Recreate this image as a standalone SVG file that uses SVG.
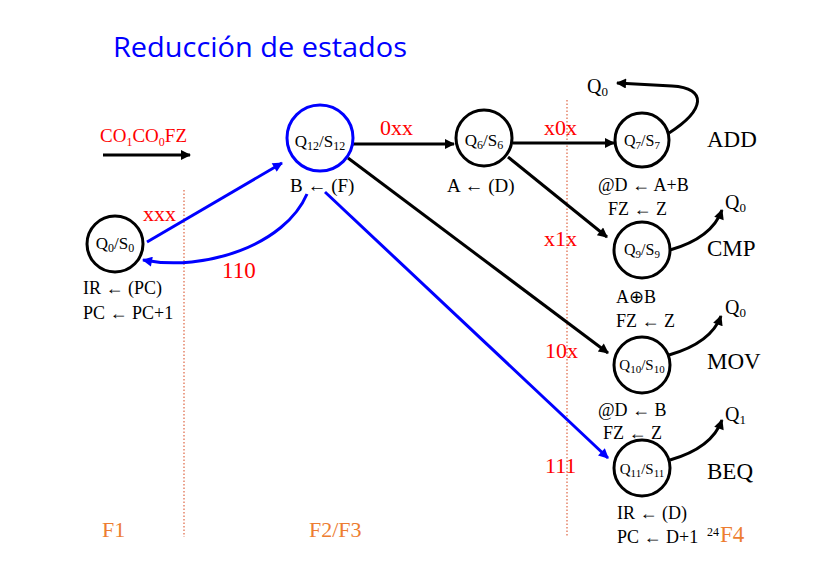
<svg xmlns="http://www.w3.org/2000/svg" width="828" height="580" viewBox="0 0 828 580">
<defs>
<style>
.t{font-family:"Liberation Serif","Times New Roman",serif;fill:#000;}
.r{font-family:"Liberation Serif","Times New Roman",serif;fill:#ff0000;}
.o{font-family:"Liberation Serif","Times New Roman",serif;fill:#ed7d31;}
.n{fill:#fff;stroke:#000;stroke-width:3;}
.nb{fill:#fff;stroke:#0000ff;stroke-width:3;}
.k{fill:none;stroke:#000;stroke-width:3;}
.b{fill:none;stroke:#0000ff;stroke-width:3;}
.dot{stroke:#e07050;stroke-width:1.3;stroke-dasharray:1.5,2;}
</style>
<marker id="ak" viewBox="0 0 10 10" refX="9" refY="5" markerWidth="12" markerHeight="10" markerUnits="userSpaceOnUse" orient="auto"><path d="M0,0 L10,5 L0,10 z" fill="#000"/></marker>
<marker id="ab" viewBox="0 0 10 10" refX="9" refY="5" markerWidth="12" markerHeight="10" markerUnits="userSpaceOnUse" orient="auto"><path d="M0,0 L10,5 L0,10 z" fill="#0000ff"/></marker>
</defs>
<rect width="828" height="580" fill="#fff"/>
<text x="113" y="57" font-family="Open Sans, Liberation Sans, sans-serif" font-size="27" fill="#0000ff" textLength="294" lengthAdjust="spacingAndGlyphs">Reducción de estados</text>

<line class="dot" x1="184" y1="190" x2="184" y2="537"/>
<line class="dot" x1="567" y1="100" x2="567" y2="537"/>

<g id="connectors">
<line class="k" x1="103" y1="155" x2="190" y2="155" marker-end="url(#ak)"/>
<line class="b" x1="147" y1="242" x2="282" y2="163" marker-end="url(#ab)"/>
<path class="b" d="M307,194 C285,245 205,272 143,260" marker-end="url(#ab)"/>
<line class="b" x1="325" y1="192" x2="608" y2="458" marker-end="url(#ab)"/>
<line class="k" x1="353" y1="144" x2="454" y2="144" marker-end="url(#ak)"/>
<line class="k" x1="348" y1="158" x2="608" y2="353" marker-end="url(#ak)"/>
<line class="k" x1="513" y1="143" x2="614" y2="143" marker-end="url(#ak)"/>
<line class="k" x1="508" y1="157" x2="607" y2="237" marker-end="url(#ak)"/>
<path class="k" d="M669,133 C705,110 708,88 672,86 L617,83" marker-end="url(#ak)"/>
<path class="k" d="M670,250 Q712,238 722,210" marker-end="url(#ak)"/>
<path class="k" d="M669,355 Q711,343 721,316" marker-end="url(#ak)"/>
<path class="k" d="M670,460 Q712,448 722,420" marker-end="url(#ak)"/>
</g>

<g id="bus-label">
<text class="r" x="100" y="142" font-size="19">CO<tspan font-size="12" dy="4">1</tspan><tspan dy="-4">CO</tspan><tspan font-size="12" dy="4">0</tspan><tspan dy="-4">FZ</tspan></text>
</g>

<g id="q0">
<circle class="n" cx="115" cy="244" r="28"/>
<text class="t" x="115" y="249" font-size="17" text-anchor="middle">Q<tspan font-size="12" dy="3">0</tspan><tspan dy="-3">/S</tspan><tspan font-size="12" dy="3">0</tspan></text>
<text class="t" x="83" y="294" font-size="18">IR ← (PC)</text>
<text class="t" x="83" y="319" font-size="18">PC ← PC+1</text>
</g>

<g id="q12">
<circle class="nb" cx="320" cy="138" r="33"/>
<text class="t" x="320" y="147" font-size="17" text-anchor="middle">Q<tspan font-size="12" dy="3">12</tspan><tspan dy="-3">/S</tspan><tspan font-size="12" dy="3">12</tspan></text>
<text class="t" x="290" y="192" font-size="19">B ← (F)</text>
</g>

<g id="q6">
<circle class="n" cx="484" cy="138" r="28"/>
<text class="t" x="484" y="146" font-size="17" text-anchor="middle">Q<tspan font-size="12" dy="3">6</tspan><tspan dy="-3">/S</tspan><tspan font-size="12" dy="3">6</tspan></text>
<text class="t" x="447" y="192" font-size="19">A ← (D)</text>
</g>

<g id="q7">
<circle class="n" cx="642" cy="140" r="27"/>
<text class="t" x="642" y="146" font-size="16" text-anchor="middle">Q<tspan font-size="11" dy="3">7</tspan><tspan dy="-3">/S</tspan><tspan font-size="11" dy="3">7</tspan></text>
<text class="t" x="707" y="147" font-size="23">ADD</text>
<text class="t" x="598" y="191" font-size="18">@D ← A+B</text>
<text class="t" x="608" y="215" font-size="18">FZ ← Z</text>
<text class="t" x="587" y="93" font-size="20">Q<tspan font-size="13" dy="3">0</tspan></text>
</g>

<g id="q9">
<circle class="n" cx="642" cy="250" r="28"/>
<text class="t" x="642" y="255" font-size="16" text-anchor="middle">Q<tspan font-size="11" dy="3">9</tspan><tspan dy="-3">/S</tspan><tspan font-size="11" dy="3">9</tspan></text>
<text class="t" x="707" y="256" font-size="23">CMP</text>
<text class="t" x="616" y="303" font-size="18">A⊕B</text>
<text class="t" x="616" y="327" font-size="18">FZ ← Z</text>
<text class="t" x="725" y="209" font-size="20">Q<tspan font-size="13" dy="3">0</tspan></text>
</g>

<g id="q10">
<circle class="n" cx="642" cy="365" r="28"/>
<text class="t" x="642" y="370" font-size="15" text-anchor="middle">Q<tspan font-size="11" dy="3">10</tspan><tspan dy="-3">/S</tspan><tspan font-size="11" dy="3">10</tspan></text>
<text class="t" x="707" y="369" font-size="23">MOV</text>
<text class="t" x="598" y="416" font-size="18">@D ← B</text>
<text class="t" x="603" y="439" font-size="18">FZ ← Z</text>
<text class="t" x="725" y="314" font-size="20">Q<tspan font-size="13" dy="3">0</tspan></text>
</g>

<g id="q11">
<circle class="n" cx="642" cy="468" r="28"/>
<text class="t" x="642" y="474" font-size="15" text-anchor="middle">Q<tspan font-size="11" dy="3">11</tspan><tspan dy="-3">/S</tspan><tspan font-size="11" dy="3">11</tspan></text>
<text class="t" x="707" y="479" font-size="23">BEQ</text>
<text class="t" x="617" y="519" font-size="18">IR ← (D)</text>
<text class="t" x="617" y="543" font-size="18">PC ← D+1</text>
<text class="t" x="707" y="536" font-size="12">24</text>
<text class="t" x="725" y="421" font-size="20">Q<tspan font-size="13" dy="3">1</tspan></text>
</g>

<g id="edge-labels">
<text class="r" x="143" y="221" font-size="22">xxx</text>
<text class="r" x="222" y="278" font-size="23">110</text>
<text class="r" x="380" y="135" font-size="22">0xx</text>
<text class="r" x="544" y="135" font-size="22">x0x</text>
<text class="r" x="544" y="246" font-size="22">x1x</text>
<text class="r" x="545" y="358" font-size="22">10x</text>
<text class="r" x="545" y="473" font-size="22">111</text>
</g>

<g id="phases">
<text class="o" x="102" y="537" font-size="22">F1</text>
<text class="o" x="309" y="537" font-size="22">F2/F3</text>
<text class="o" x="720" y="542" font-size="23">F4</text>
</g>
</svg>
